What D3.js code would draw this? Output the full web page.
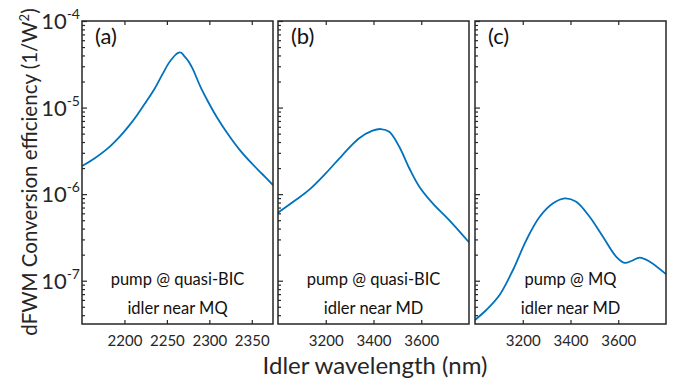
<!DOCTYPE html>
<html>
<head>
<meta charset="utf-8">
<script src="https://cdn.jsdelivr.net/npm/d3@7"></script>
<style>
  html, body { margin: 0; padding: 0; background: #fff; }
  svg { display: block; font-family: Lato, "Open Sans", sans-serif; }
</style>
</head>
<body>
<svg id="chart" width="680" height="382"></svg>
<script>
// idler wavelength (nm) / dFWM conversion efficiency (1/W^2)
const wavelengthA = [2150, 2165, 2180, 2195, 2205, 2215, 2225, 2235, 2245, 2252, 2257, 2261, 2264, 2267, 2270, 2275, 2280, 2290, 2300, 2310, 2320, 2335, 2350, 2362, 2375];
const efficiencyA = [2.11e-6, 2.60e-6, 3.35e-6, 4.68e-6, 6.10e-6, 8.22e-6, 1.148e-5, 1.62e-5, 2.45e-5, 3.24e-5, 3.76e-5, 4.14e-5, 4.32e-5, 4.29e-5, 3.98e-5, 3.47e-5, 2.85e-5, 1.70e-5, 1.10e-5, 7.41e-6, 5.25e-6, 3.31e-6, 2.26e-6, 1.72e-6, 1.27e-6];

const wavelengthB = [3000, 3074, 3130, 3200, 3270, 3340, 3396, 3431, 3466, 3508, 3550, 3592, 3648, 3717, 3800];
const efficiencyB = [6.11e-7, 8.55e-7, 1.12e-6, 1.74e-6, 2.83e-6, 4.42e-6, 5.41e-6, 5.65e-6, 5.26e-6, 3.53e-6, 1.99e-6, 1.22e-6, 7.83e-7, 5.02e-7, 2.78e-7];

const wavelengthC = [3000, 3047, 3103, 3159, 3215, 3271, 3327, 3376, 3424, 3480, 3536, 3592, 3627, 3655, 3690, 3732, 3800];
const efficiencyC = [3.52e-8, 4.59e-8, 6.84e-8, 1.33e-7, 2.95e-7, 5.48e-7, 7.83e-7, 8.95e-7, 8.18e-7, 5.48e-7, 3.22e-7, 1.89e-7, 1.61e-7, 1.69e-7, 1.85e-7, 1.66e-7, 1.19e-7];

const xDomainA = [2150, 2375];
const xDomainBC = [3000, 3800];
const xTicksA = [2200, 2250, 2300, 2350];
const xTicksBC = [3200, 3400, 3600];
const yExponents = [-4, -5, -6, -7];
const yDomain = [Math.pow(10, -7.5), 1e-4];

const panelLabels = ["(a)", "(b)", "(c)"];
const pumpNotes = ["pump @ quasi-BIC", "pump @ quasi-BIC", "pump @ MQ"];
const idlerNotes = ["idler near MQ", "idler near MD", "idler near MD"];

const ink = "#262626";
const lineColor = "#0072BD";
const plotTop = 21, plotBottom = 324;
const panelLefts = [82, 278, 475];
const panelWidth = 191;

const svg = d3.select("#chart");

const y = d3.scaleLog().domain(yDomain).range([plotBottom, plotTop]);

// minor log ticks
const minorTicks = [];
for (let e = -8; e < -4; e++) {
  for (let k = 2; k <= 9; k++) {
    const v = k * Math.pow(10, e);
    if (v >= yDomain[0] && v <= yDomain[1]) minorTicks.push(v);
  }
}

const series = [
  { wl: wavelengthA, eff: efficiencyA, dom: xDomainA, ticks: xTicksA },
  { wl: wavelengthB, eff: efficiencyB, dom: xDomainBC, ticks: xTicksBC },
  { wl: wavelengthC, eff: efficiencyC, dom: xDomainBC, ticks: xTicksBC }
];

series.forEach((s, i) => {
  const left = panelLefts[i], right = left + panelWidth;
  const x = d3.scaleLinear().domain(s.dom).range([left, right]);
  const g = svg.append("g");

  g.append("clipPath").attr("id", "clip" + i)
    .append("rect").attr("x", left).attr("y", plotTop)
    .attr("width", panelWidth).attr("height", plotBottom - plotTop);

  // curve
  const pts = d3.zip(s.wl, s.eff);
  g.append("path")
    .datum(pts)
    .attr("clip-path", `url(#clip${i})`)
    .attr("fill", "none")
    .attr("stroke", lineColor)
    .attr("stroke-width", 1.8)
    .attr("d", d3.line()
      .x(d => x(d[0]))
      .y(d => y(d[1]))
      .curve(d3.curveCatmullRom.alpha(0.5)));

  // bottom axis with labels
  g.append("g")
    .attr("transform", `translate(0,${plotBottom})`)
    .call(d3.axisBottom(x).tickValues(s.ticks).tickSize(-4).tickPadding(11).tickFormat(d3.format("d")))
    .call(a => a.select(".domain").remove())
    .call(a => a.selectAll("line").attr("stroke", ink).attr("stroke-width", 1.2))
    .call(a => a.selectAll("text").attr("fill", ink).style("font-size", "15px"))
    .attr("font-family", null);

  // top axis ticks
  g.append("g")
    .attr("transform", `translate(0,${plotTop})`)
    .call(d3.axisTop(x).tickValues(s.ticks).tickSize(-4).tickFormat(""))
    .call(a => a.select(".domain").remove())
    .call(a => a.selectAll("line").attr("stroke", ink).attr("stroke-width", 1.2));

  // left axis ticks (major + minor)
  g.append("g")
    .attr("transform", `translate(${left},0)`)
    .call(d3.axisLeft(y).tickValues(yExponents.map(e => Math.pow(10, e))).tickSize(-5).tickFormat(""))
    .call(a => a.select(".domain").remove())
    .call(a => a.selectAll("line").attr("stroke", ink).attr("stroke-width", 1.2));
  g.append("g")
    .attr("transform", `translate(${left},0)`)
    .call(d3.axisLeft(y).tickValues(minorTicks).tickSize(-3).tickFormat(""))
    .call(a => a.select(".domain").remove())
    .call(a => a.selectAll("line").attr("stroke", ink).attr("stroke-width", 1.2));

  // frame
  g.append("rect")
    .attr("x", left).attr("y", plotTop)
    .attr("width", panelWidth).attr("height", plotBottom - plotTop)
    .attr("fill", "none").attr("stroke", ink).attr("stroke-width", 1.5);

  // panel label
  g.append("text")
    .attr("x", left + 13).attr("y", 44)
    .attr("fill", "#111")
    .style("font-size", "22px")
    .text(panelLabels[i]);

  // notes
  const cx = (left + right) / 2;
  g.append("text")
    .attr("x", cx).attr("y", 285)
    .attr("text-anchor", "middle").attr("fill", "#111")
    .style("font-size", "16.5px")
    .text(pumpNotes[i]);
  g.append("text")
    .attr("x", cx).attr("y", 314)
    .attr("text-anchor", "middle").attr("fill", "#111")
    .style("font-size", "16.5px")
    .text(idlerNotes[i]);
});

// y tick labels 10^n on the first panel
const yLab = svg.append("g");
yExponents.forEach(e => {
  const t = yLab.append("text")
    .attr("x", panelLefts[0] - 2)
    .attr("y", y(Math.pow(10, e)) + 8)
    .attr("text-anchor", "end")
    .attr("fill", ink)
    .style("font-size", "22px");
  t.append("tspan").text("10");
  t.append("tspan").attr("dy", -10).style("font-size", "14px").text(String(e));
});

// axis titles
const yTitle = svg.append("text")
  .attr("transform", "translate(37,172) rotate(-90)")
  .attr("text-anchor", "middle")
  .attr("fill", ink)
  .style("font-size", "20.5px");
yTitle.append("tspan").text("dFWM Conversion efficiency (1/W");
yTitle.append("tspan").attr("dy", -8).style("font-size", "13px").text("2");
yTitle.append("tspan").attr("dy", 8).text(")");

svg.append("text")
  .attr("x", 375).attr("y", 373.5)
  .attr("text-anchor", "middle")
  .attr("fill", ink)
  .style("font-size", "24px")
  .text("Idler wavelength (nm)");
</script>
</body>
</html>
